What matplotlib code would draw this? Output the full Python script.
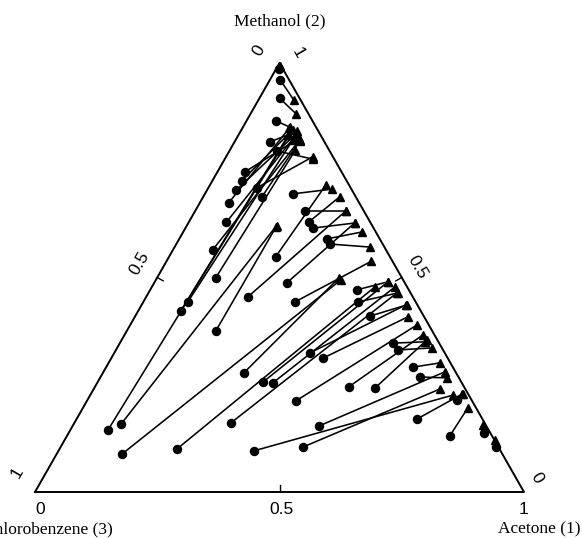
import matplotlib
matplotlib.use('Agg')
import matplotlib.pyplot as plt
import numpy as np

# Ternary tie-line data: acetone (1) and methanol (2) mole fractions,
# chlorobenzene (3) is the remainder.  Circles = one phase, triangles = other.
circle_acetone = [0.005, 0.022, 0.041, 0.060, 0.072, 0.097, 0.056, 0.060, 0.060, 0.099,
                  0.120, 0.059, 0.077, 0.081, 0.120, 0.087, 0.091, 0.077, 0.097, 0.182,
                  0.180, 0.218, 0.224, 0.245, 0.260, 0.302, 0.314, 0.208, 0.271, 0.310,
                  0.288, 0.134, 0.240, 0.320, 0.338, 0.359, 0.427, 0.400, 0.433, 0.422,
                  0.439, 0.480, 0.519, 0.574, 0.558, 0.576, 0.627, 0.653, 0.504, 0.496,
                  0.400, 0.696, 0.783, 0.756, 0.849, 0.890]
circle_methanol = [0.986, 0.960, 0.918, 0.865, 0.816, 0.795, 0.746, 0.725, 0.704, 0.709,
                   0.688, 0.674, 0.629, 0.564, 0.499, 0.422, 0.443, 0.145, 0.159, 0.375,
                   0.695, 0.548, 0.655, 0.629, 0.615, 0.590, 0.578, 0.455, 0.487, 0.443,
                   0.277, 0.089, 0.100, 0.161, 0.256, 0.254, 0.212, 0.324, 0.312, 0.471,
                   0.443, 0.410, 0.245, 0.242, 0.347, 0.331, 0.291, 0.268, 0.154, 0.105,
                   0.096, 0.170, 0.131, 0.214, 0.138, 0.105]
tri_acetone = [0.004, 0.072, 0.094, 0.095, 0.116, 0.180, 0.128, 0.105, 0.116, 0.177,
               0.132, 0.096, 0.118, 0.131, 0.134, 0.102, 0.117, 0.104, 0.183, 0.184,
               0.254, 0.237, 0.308, 0.279, 0.340, 0.365, 0.399, 0.308, 0.340, 0.419,
               0.372, 0.378, 0.456, 0.508, 0.477, 0.497, 0.586, 0.540, 0.558, 0.477,
               0.510, 0.542, 0.610, 0.624, 0.622, 0.644, 0.678, 0.709, 0.698, 0.708,
               0.742, 0.759, 0.787, 0.762, 0.838, 0.880]
tri_methanol = [0.994, 0.914, 0.881, 0.851, 0.841, 0.776, 0.825, 0.844, 0.834, 0.781,
                0.818, 0.848, 0.834, 0.821, 0.797, 0.832, 0.821, 0.832, 0.618, 0.620,
                0.706, 0.716, 0.655, 0.688, 0.627, 0.606, 0.571, 0.655, 0.627, 0.538,
                0.499, 0.494, 0.478, 0.464, 0.490, 0.478, 0.389, 0.436, 0.408, 0.490,
                0.464, 0.436, 0.366, 0.354, 0.350, 0.336, 0.301, 0.266, 0.280, 0.240,
                0.226, 0.228, 0.196, 0.228, 0.156, 0.121]

# tick labels along each edge
tick_labels = ['0', '0.5', '1']

W, H = 582, 538
h = 429 / 489  # height / base of the drawn triangle


def tern(a, m):
    # acetone -> right corner, methanol -> top corner
    a = np.asarray(a)
    m = np.asarray(m)
    return a + 0.5 * m, h * m


def px(x, y):
    return x / W, 1 - y / H


fig = plt.figure(figsize=(W / 100, H / 100), dpi=100)
ax = fig.add_axes([35 / W, (H - 492) / H, 489 / W, 429 / H])
ax.set_xlim(0, 1)
ax.set_ylim(0, h)
ax.axis('off')

# triangle frame
ax.plot([0, 1, 0.5, 0], [0, 0, h, 0], color='black', lw=1.4, clip_on=False)

# small ticks at 0.5 on each edge (pointing inward)
t = 0.012
ax.plot([0.5, 0.5], [0, t * 1.2], color='black', lw=1.0)
lx, ly = tern(0.0, 0.5)
ax.plot([lx, lx + t], [ly, ly - t * 0.57], color='black', lw=1.0)
rx, ry = tern(0.5, 0.5)
ax.plot([rx, rx - t], [ry, ry - t * 0.57], color='black', lw=1.0)

# tie lines
for a1, m1, a2, m2 in zip(circle_acetone, circle_methanol, tri_acetone, tri_methanol):
    x1, y1 = tern(a1, m1)
    x2, y2 = tern(a2, m2)
    ax.plot([x1, x2], [y1, y2], color='black', lw=1.15, clip_on=False)

cx, cy = tern(circle_acetone, circle_methanol)
tx, ty = tern(tri_acetone, tri_methanol)
ax.plot(cx, cy, 'o', color='black', ms=5.8, ls='none', clip_on=False)
ax.plot(tx, ty, '^', color='black', ms=6.2, ls='none', clip_on=False)

# axis names
serif = dict(family='Liberation Serif', fontsize=12.5, color='black')
fig.text(*px(280, 21), 'Methanol (2)', ha='center', va='center', **serif)
fig.text(*px(581, 529), 'Acetone (1)', ha='right', va='center', **serif)
fig.text(*px(113, 529), 'Chlorobenzene (3)', ha='right', va='center', **serif)

# tick labels
sans = dict(family='Liberation Sans', fontsize=12.5, color='black')
for (x, y), lab in zip([(40, 510), (282, 510), (523, 510)], tick_labels):
    fig.text(*px(x, y), lab, ha='center', va='center', **sans)
for (x, y), lab in zip([(17, 473), (140, 263), (259, 51)], tick_labels[::-1]):
    fig.text(*px(x, y), lab, ha='center', va='center', rotation=60, **sans)
for (x, y), lab in zip([(298, 53), (417, 267), (537, 478)], tick_labels[::-1]):
    fig.text(*px(x, y), lab, ha='center', va='center', rotation=-60, **sans)

plt.savefig('out.png', dpi=100)
